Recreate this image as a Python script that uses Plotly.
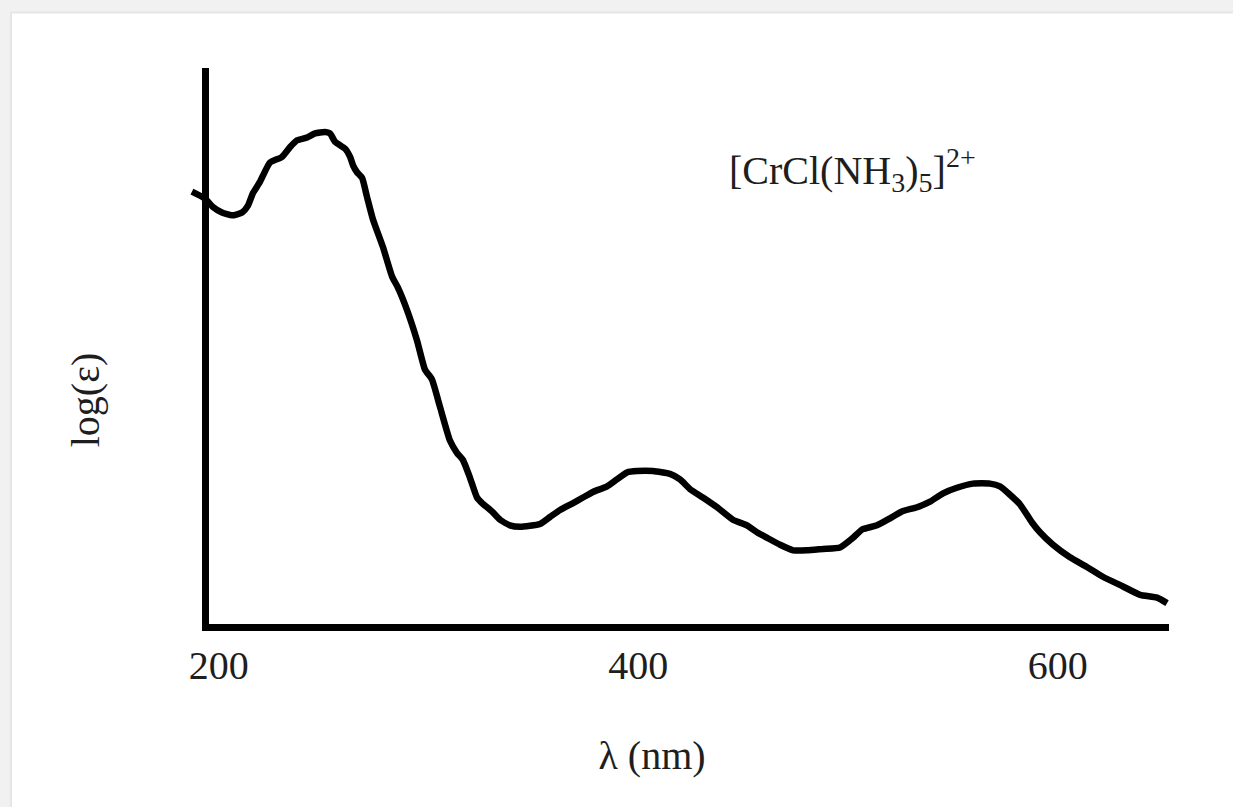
import plotly.graph_objects as go

# ---- data (wavelength in nm, log(epsilon) in arbitrary units) ----
wavelength_nm = [187.2, 193.4, 197.2, 201.5, 206.3, 211.1, 213.9, 216.3, 219.6, 224.4,
                 230.1, 233.9, 237.3, 242.1, 245.9, 250.6, 253.0, 255.4, 260.2, 262.6,
                 264.0, 265.9, 268.3, 270.7, 273.5, 278.3, 282.6, 285.4, 289.7, 294.5,
                 298.3, 301.6, 305.5, 310.2, 313.6, 316.4, 319.8, 323.1, 325.5, 330.2,
                 334.1, 338.8, 343.6, 353.1, 357.9, 362.7, 368.9, 373.6, 378.4, 385.1,
                 389.8, 394.6, 399.4, 407.0, 415.1, 419.9, 424.7, 430.8, 437.5, 445.1,
                 451.8, 456.6, 461.4, 467.6, 473.8, 480.4, 488.1, 496.2, 502.4, 506.7,
                 513.8, 520.0, 525.7, 532.9, 539.1, 545.3, 551.9, 559.6, 567.7, 572.4,
                 577.2, 582.0, 587.7, 591.5, 597.7, 605.8, 613.9, 621.5, 631.1, 639.2,
                 647.3, 652.1]
log_eps = [3.11, 3.06, 3.00, 2.96, 2.94, 2.96, 3.01, 3.10, 3.18, 3.32,
           3.36, 3.43, 3.48, 3.50, 3.53, 3.54, 3.53, 3.47, 3.42, 3.36,
           3.30, 3.25, 3.21, 3.07, 2.91, 2.71, 2.50, 2.42, 2.26, 2.04,
           1.83, 1.76, 1.56, 1.32, 1.23, 1.18, 1.05, 0.91, 0.87, 0.81,
           0.75, 0.71, 0.70, 0.72, 0.77, 0.82, 0.87, 0.91, 0.95, 0.99,
           1.04, 1.09, 1.10, 1.10, 1.08, 1.04, 0.97, 0.91, 0.84, 0.75,
           0.71, 0.66, 0.62, 0.57, 0.53, 0.53, 0.54, 0.55, 0.62, 0.68,
           0.71, 0.76, 0.81, 0.84, 0.88, 0.94, 0.98, 1.01, 1.01, 0.99,
           0.93, 0.86, 0.73, 0.66, 0.57, 0.48, 0.41, 0.34, 0.27, 0.21,
           0.19, 0.15]
tick_vals = [200, 400, 600]
tick_text = ["200", "400", "600"]
x_title = "λ (nm)"
y_title = "log(ε)"
species_label = "[CrCl(NH<sub>3</sub>)<sub>5</sub>]<sup>2+</sup>"

# ---- page geometry (pixels) ----
W, H = 1233, 807
ML, MR, MT, MB = 100, 40, 40, 40
PW = W - ML - MR
PH = H - MT - MB


def fx(px):
    return (px - ML) / PW


def fy(py):
    return (H - MB - py) / PH


# pixel scale of the two axes
NM_PX, NM_OFF = 2.0975, -200.7
Y_PX, Y0_PX = 139.0, 624.0


def lam(px):
    return (px - NM_OFF) / NM_PX


def val(py):
    return (Y0_PX - py) / Y_PX


SERIF = "Liberation Serif, Times New Roman, serif"
INK = "#1e1e1e"

fig = go.Figure()
# empty trace so the framed (axis-line) subplot is created
fig.add_trace(go.Scatter(x=[], y=[], xaxis="x", yaxis="y", mode="lines",
                         hoverinfo="skip", showlegend=False))
fig.add_trace(go.Scatter(
    x=wavelength_nm, y=log_eps, xaxis="x2", yaxis="y2",
    mode="lines", line=dict(color="black", width=6.5, shape="spline", smoothing=0.5),
    hoverinfo="skip", showlegend=False,
))

fig.update_layout(
    width=W, height=H,
    margin=dict(l=ML, r=MR, t=MT, b=MB, pad=0),
    paper_bgcolor="#f1f1f1",
    plot_bgcolor="rgba(0,0,0,0)",
    showlegend=False,
    font=dict(family=SERIF, size=40, color=INK),
    xaxis=dict(
        domain=[fx(208.5), fx(1169)], range=[lam(208.5), lam(1169)],
        anchor="y", showline=True, linecolor="black", linewidth=6.5,
        ticks="", tickvals=tick_vals, ticktext=tick_text,
        tickfont=dict(family=SERIF, size=40, color=INK),
        showgrid=False, zeroline=False, fixedrange=True,
    ),
    yaxis=dict(
        domain=[fy(624), fy(68)], range=[val(624), val(68)],
        anchor="x", showline=True, linecolor="black", linewidth=6.5,
        ticks="", showticklabels=False, showgrid=False, zeroline=False, fixedrange=True,
    ),
    xaxis2=dict(
        domain=[fx(129), fx(1175)], range=[lam(129), lam(1175)],
        anchor="y2", showline=False, ticks="", showticklabels=False,
        showgrid=False, zeroline=False, fixedrange=True,
        title=dict(text=x_title, font=dict(family=SERIF, size=40, color=INK), standoff=66),
    ),
    yaxis2=dict(
        domain=[fy(674), fy(126)], range=[val(674), val(126)],
        anchor="x2", showline=False, ticks="", showticklabels=False,
        showgrid=False, zeroline=False, fixedrange=True,
        title=dict(text=y_title, font=dict(family=SERIF, size=40, color=INK), standoff=16),
    ),
    annotations=[dict(
        text=species_label, xref="x2", yref="y2", x=lam(727), y=val(170),
        xanchor="left", yanchor="middle", showarrow=False,
        font=dict(family=SERIF, size=40, color=INK),
    )],
    shapes=[dict(
        type="rect", xref="paper", yref="paper", layer="below",
        x0=fx(11), x1=fx(1245), y0=fy(820), y1=fy(12.5),
        fillcolor="white", line=dict(color="#e6e6e6", width=2),
    )],
)

fig.write_html("out.html", config={"displayModeBar": False},
               post_script="document.body.style.margin='0px';")
